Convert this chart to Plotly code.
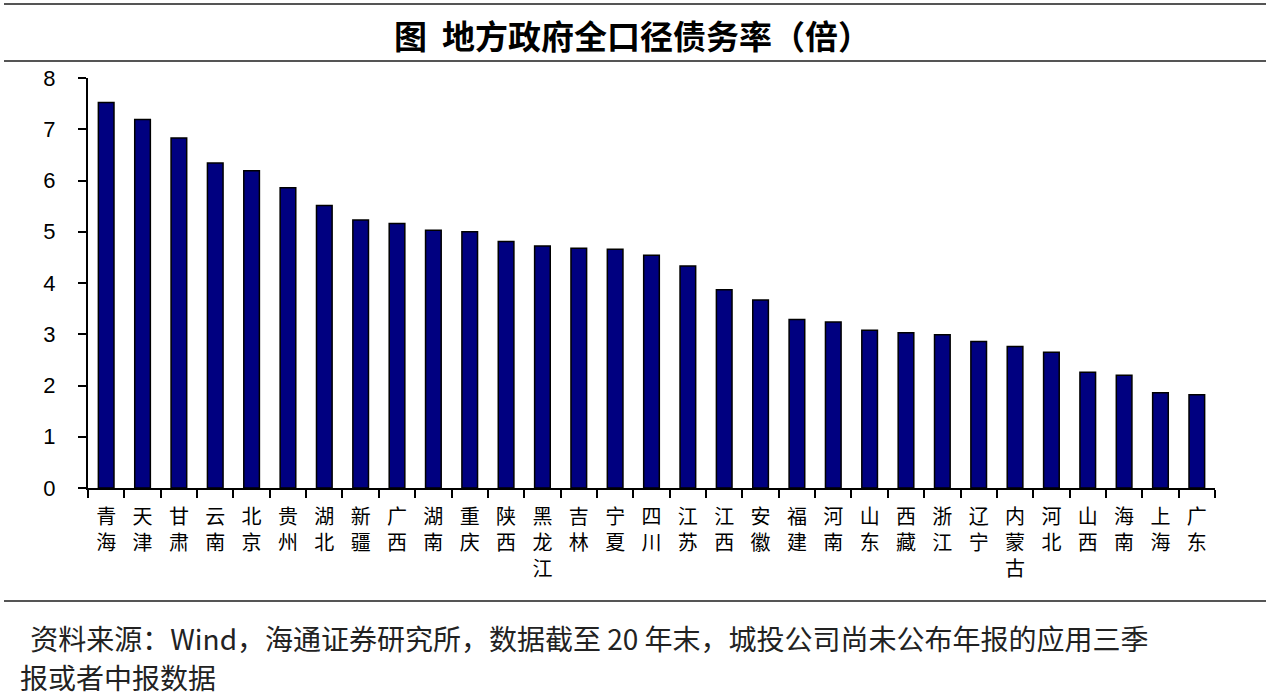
import plotly.graph_objects as go

provinces = ['青海', '天津', '甘肃', '云南', '北京', '贵州', '湖北', '新疆', '广西', '湖南',
             '重庆', '陕西', '黑龙江', '吉林', '宁夏', '四川', '江苏', '江西', '安徽', '福建',
             '河南', '山东', '西藏', '浙江', '辽宁', '内蒙古', '河北', '山西', '海南', '上海', '广东']
debt_ratio = [7.52, 7.19, 6.83, 6.34, 6.19, 5.86, 5.51, 5.23, 5.16, 5.03,
              5.00, 4.81, 4.72, 4.68, 4.66, 4.54, 4.33, 3.87, 3.67, 3.29,
              3.24, 3.08, 3.03, 2.99, 2.86, 2.76, 2.65, 2.26, 2.20, 1.86, 1.82]
y_ticks = [0, 1, 2, 3, 4, 5, 6, 7, 8]

# stack the characters of each name vertically, like the original axis labels
labels = ['<br>'.join(list(p)) for p in provinces]

fig = go.Figure(go.Bar(
    x=labels, y=debt_ratio,
    marker=dict(color='#000080', line=dict(color='black', width=1.5)),
    width=0.43,
))

cjk = 'Noto Sans CJK SC'

# px -> paper helpers (plot area is 88..1215 x 78..488)
L, R, T, B = 88, 1215, 78, 488

def px(v):
    return (v - L) / (R - L)

def py(v):
    return (B - v) / (B - T)

line_style = dict(color='#555555', width=2)
for yy in (4, 61, 601):
    fig.add_shape(type='line', xref='paper', yref='paper', x0=px(4), x1=px(1266),
                  y0=py(yy), y1=py(yy), line=line_style)

fig.add_annotation(text='<b>图  地方政府全口径债务率（倍）</b>', xref='paper', yref='paper',
                   x=px(632), y=py(35), showarrow=False, xanchor='center', yanchor='middle',
                   font=dict(family=cjk, size=33, color='black'))
fig.add_annotation(text=' 资料来源：Wind，海通证券研究所，数据截至 20 年末，城投公司尚未公布年报的应用三季',
                   xref='paper', yref='paper', x=px(22), y=py(638), showarrow=False,
                   xanchor='left', yanchor='middle', font=dict(family=cjk, size=28, color='#222222'))
fig.add_annotation(text='报或者中报数据',
                   xref='paper', yref='paper', x=px(18), y=py(677), showarrow=False,
                   xanchor='left', yanchor='middle', font=dict(family=cjk, size=28, color='#222222'))

fig.update_layout(
    width=1268, height=698,
    margin=dict(l=L, r=1268 - R, t=T, b=698 - B),
    plot_bgcolor='white', paper_bgcolor='white',
    showlegend=False,
)
fig.update_xaxes(showline=True, linecolor='black', linewidth=2,
                 ticks='outside', tickson='boundaries', ticklen=8, tickwidth=2, tickcolor='black',
                 tickfont=dict(family='Liberation Sans, ' + cjk, size=20, color='black'), tickangle=0,
                 ticklabelstandoff=10, showgrid=False)
fig.update_yaxes(range=[0, 8], tickvals=y_ticks, showline=True, linecolor='black', linewidth=2,
                 ticks='outside', ticklen=8, tickwidth=2, tickcolor='black',
                 tickfont=dict(family='Liberation Sans, Arial', size=22, color='black'),
                 ticklabelstandoff=18, showgrid=False, zeroline=False)

fig.write_html('out.html', config={'displayModeBar': False},
               post_script="document.body.style.margin='0px';")
